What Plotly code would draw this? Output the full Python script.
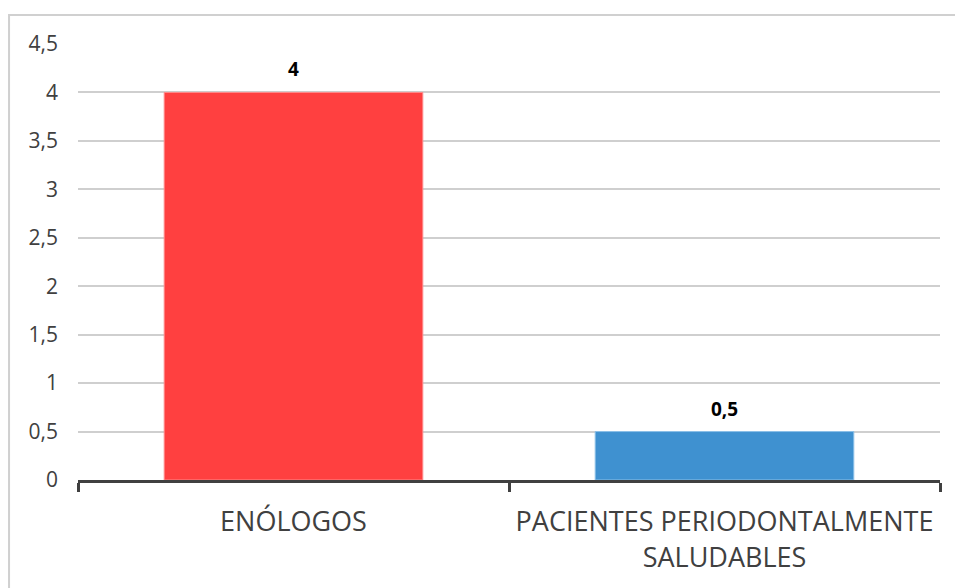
import plotly.graph_objects as go

categories = ["ENÓLOGOS", "PACIENTES PERIODONTALMENTE<br>SALUDABLES"]
values = [4, 0.5]
value_labels = ["4", "0,5"]
bar_colors = ["#FF4040", "#3F91D0"]
edge_colors = ["#FF8A8A", "#8CC0E8"]
y_ticks = [0, 0.5, 1, 1.5, 2, 2.5, 3, 3.5, 4, 4.5]
y_tick_text = ["0", "0,5", "1", "1,5", "2", "2,5", "3", "3,5", "4", "4,5"]

fig = go.Figure()
fig.add_trace(go.Bar(
    x=categories,
    y=values,
    width=0.6,
    marker=dict(color=bar_colors, line=dict(color=edge_colors, width=1)),
    hoverinfo="skip",
))

for cat, val, lab in zip(categories, values, value_labels):
    fig.add_annotation(
        x=cat, y=val, text=f"<b>{lab}</b>", showarrow=False,
        yshift=23, font=dict(family="Open Sans", size=19, color="#000000"),
    )

# outer chart frame
fig.add_shape(
    type="rect", xref="paper", yref="paper",
    x0=-0.080, y0=-0.35, x1=1.08, y1=1.0665,
    line=dict(color="#D0D0D0", width=2), fillcolor="rgba(0,0,0,0)", layer="below",
)

fig.update_layout(
    width=955, height=588,
    margin=dict(l=78, r=15, t=44, b=108),
    paper_bgcolor="white", plot_bgcolor="white",
    showlegend=False,
    bargap=0.4,
    xaxis=dict(
        type="category",
        showline=True, linecolor="#404040", linewidth=3,
        ticks="outside", tickson="boundaries", ticklen=9, tickwidth=3, tickcolor="#404040",
        tickfont=dict(family="Open Sans", size=27, color="#404040"),
        ticklabelstandoff=16,
        showgrid=False,
    ),
    yaxis=dict(
        range=[0, 4.5],
        tickvals=y_ticks, ticktext=y_tick_text,
        tickfont=dict(family="Open Sans", size=21, color="#404040"),
        showgrid=True, gridcolor="#CFCFCF", gridwidth=1.5,
        zeroline=False, showline=False, ticks="",
        ticklabelstandoff=19,
    ),
)

fig.write_html("out.html")
